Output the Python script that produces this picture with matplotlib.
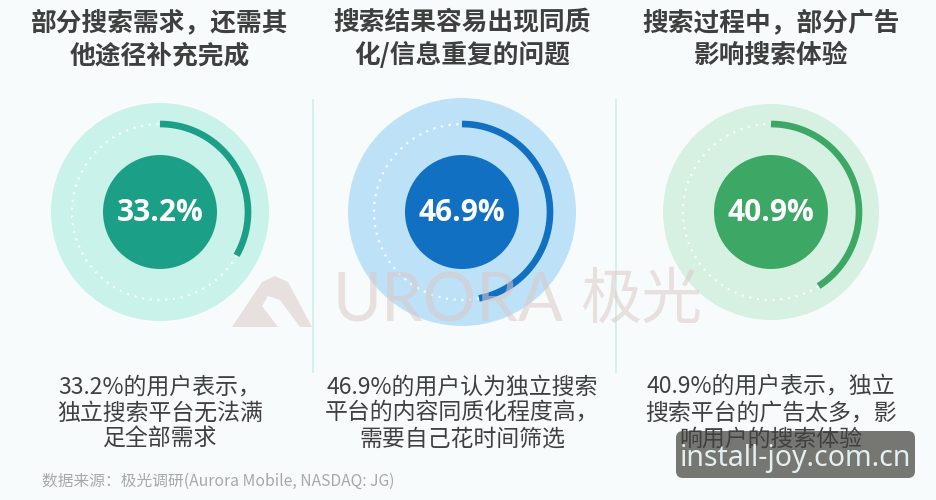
import numpy as np
import matplotlib
matplotlib.use("Agg")
import matplotlib.pyplot as plt
from matplotlib.patches import Circle, FancyBboxPatch, Polygon

plt.rcParams['font.family'] = ['Noto Sans CJK SC', 'DejaVu Sans']

# ---- data ----
values = [33.2, 46.9, 40.9]
labels = ["33.2%", "46.9%", "40.9%"]
titles = ["部分搜索需求，还需其\n他途径补充完成",
          "搜索结果容易出现同质\n化/信息重复的问题",
          "搜索过程中，部分广告\n影响搜索体验"]
descs = ["33.2%的用户表示，\n独立搜索平台无法满\n足全部需求",
         "46.9%的用户认为独立搜索\n平台的内容同质化程度高，\n需要自己花时间筛选",
         "40.9%的用户表示，独立\n搜索平台的广告太多，影\n响用户的搜索体验"]
source = "数据来源：极光调研(Aurora Mobile, NASDAQ: JG)"

# ---- styling ----
centers_x = [160, 462, 771]
cy = 212
outer_r = [109, 114, 108]
light_cols = ["#c9f3ea", "#bde2f7", "#d6f0e1"]
dark_cols = ["#1c9f87", "#1170c2", "#3da866"]
inner_r = 57
arc_r = 88
bg = "#f8fbfc"
wm_col = "#dcc8c8"

W, H = 937, 500
fig = plt.figure(figsize=(W / 100, H / 100), dpi=100, facecolor=bg)
ax = fig.add_axes([0, 0, 1, 1])
ax.set_xlim(0, W)
ax.set_ylim(H, 0)
ax.set_aspect('equal')
ax.axis('off')
ax.set_facecolor(bg)

# divider lines
for x in [313, 616]:
    ax.plot([x, x], [100, 372], color="#cfeee2", lw=1.2, zorder=1)

for i, v in enumerate(values):
    cx = centers_x[i]
    ax.add_patch(Circle((cx, cy), outer_r[i], facecolor=light_cols[i], edgecolor='none', zorder=2))
    # dotted remainder
    t2 = np.radians(np.linspace(v * 3.6, 360, 200))
    ax.plot(cx + arc_r * np.sin(t2), cy - arc_r * np.cos(t2), color='white', lw=1.6,
            linestyle=(0, (1, 2.5)), alpha=0.85, zorder=3)
    # value arc
    t = np.radians(np.linspace(0, v * 3.6, 200))
    ax.plot(cx + arc_r * np.sin(t), cy - arc_r * np.cos(t), color=dark_cols[i], lw=4.8,
            solid_capstyle='butt', zorder=4)
    ax.add_patch(Circle((cx, cy), inner_r, facecolor=dark_cols[i], edgecolor='none', zorder=4))
    ax.text(cx, cy + 1, labels[i], color='white', fontsize=21.5, fontweight='bold',
            ha='center', va='center', family=['Open Sans', 'DejaVu Sans'], zorder=5)
    ax.text(cx, 39, titles[i], color="#3f3f3f", fontsize=18.5, fontweight='bold',
            ha='center', va='center', linespacing=1.3, zorder=5)
    ax.text(cx, 413, descs[i], color="#404040", fontsize=16.5, ha='center', va='center',
            linespacing=1.18, zorder=6)

# watermark: logo + text
logo = Polygon([(232, 327), (262, 282), (275, 276), (288, 282), (312, 327), (300, 327),
                (280, 300), (268, 296), (262, 306), (278, 327)],
               closed=True, facecolor=wm_col, edgecolor='none', alpha=0.55, zorder=6)
ax.add_patch(logo)
ax.text(333, 302, "URORA", color=wm_col, fontsize=48, ha='left', va='center',
        alpha=0.55, family=['Lato', 'DejaVu Sans'], zorder=6)
ax.text(580, 301, "极光", color=wm_col, fontsize=44, ha='left', va='center',
        alpha=0.55, zorder=6)

# source
ax.text(42, 481, source, color="#a8a8a8", fontsize=11.3, style='italic', ha='left',
        va='center', zorder=5)

# overlay box
ax.add_patch(FancyBboxPatch((676, 431), 239, 47, boxstyle="round,pad=0,rounding_size=7",
                            facecolor="#6b6b66", edgecolor='none', alpha=0.92, zorder=5.5))
ax.text(795, 459, "install-joy.com.cn", color="#e3eff0", fontsize=20.5, ha='center',
        va='center', family=['Noto Sans', 'DejaVu Sans'], zorder=8)

fig.savefig("out.png", dpi=100, facecolor=bg)
